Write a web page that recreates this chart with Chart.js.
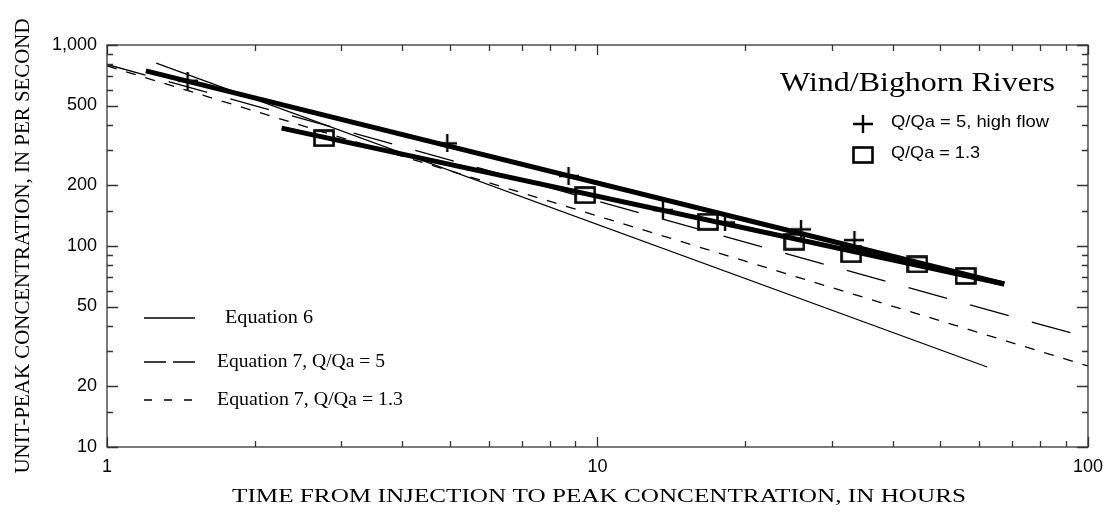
<!DOCTYPE html>
<html>
<head>
<meta charset="utf-8">
<script src="https://cdn.jsdelivr.net/npm/chart.js@4/dist/chart.umd.min.js"></script>
<style>
  html, body { margin: 0; padding: 0; background: #fff; }
  #wrap { width: 1112px; height: 517px; }
</style>
</head>
<body>
<div id="wrap"><canvas id="myChart" width="1112" height="517"></canvas></div>
<script>
// measured points, Q/Qa = 5 high flow (plus) and Q/Qa = 1.3 (square)
const plusHours = [1.46, 4.94, 8.73, 13.6, 18.2, 26.0, 33.4];
const plusConc = [664, 324, 223, 151, 131, 121, 107];
const squareHours = [2.77, 9.44, 16.8, 25.2, 32.9, 44.9, 56.3];
const squareConc = [344, 179, 132, 105, 91, 81, 71];

// fitted lines (thick)
const fit5Hours = [1.2, 67.5];
const fit5Conc = [743, 64.7];
const fit13Hours = [2.27, 67.5];
const fit13Conc = [386, 64.7];

// equation lines
const eq6Hours = [1.26, 62.3];
const eq6Conc = [813, 25.0];
const eq7aHours = [1, 100];
const eq7aConc = [800, 35];
const eq7bHours = [1, 100];
const eq7bConc = [787, 25.3];

// ticks
const xTickValues = [1, 2, 3, 4, 5, 6, 7, 8, 9, 10, 20, 30, 40, 50, 60, 70, 80, 90, 100];
const xTickLabels = { 1: '1', 10: '10', 100: '100' };
const yTickValues = [10, 15, 20, 30, 40, 50, 60, 70, 80, 90, 100, 150, 200, 300, 400, 500, 600, 700, 800, 900, 1000];
const yTickLabels = { 10: '10', 20: '20', 50: '50', 100: '100', 200: '200', 500: '500', 1000: '1,000' };

const SERIF = '"Liberation Serif", "DejaVu Serif", serif';
const SANS = '"Liberation Sans", Arial, sans-serif';

function pts(xs, ys) { return xs.map((x, i) => ({ x, y: ys[i] })); }

function makePlus() {
  const c = document.createElement('canvas');
  c.width = 20; c.height = 18;
  const g = c.getContext('2d');
  g.strokeStyle = '#000'; g.lineWidth = 2.4;
  g.beginPath();
  g.moveTo(0, 9); g.lineTo(20, 9);
  g.moveTo(10, 0); g.lineTo(10, 18);
  g.stroke();
  return c;
}
function makeSquare() {
  const c = document.createElement('canvas');
  c.width = 22; c.height = 18;
  const g = c.getContext('2d');
  g.strokeStyle = '#000'; g.lineWidth = 2.6;
  g.strokeRect(1.5, 1.5, 19, 15);
  return c;
}
const plusImg = makePlus();
const squareImg = makeSquare();

function fitText(ctx, text, font, x, y, w, align) {
  ctx.save();
  ctx.font = font;
  const m = ctx.measureText(text).width;
  ctx.translate(x, y);
  ctx.scale(w / m, 1);
  ctx.textBaseline = 'middle';
  ctx.textAlign = 'left';
  ctx.fillStyle = '#000';
  ctx.fillText(text, align === 'center' ? -m / 2 : 0, 0);
  ctx.restore();
}

const framePlugin = {
  id: 'frame',
  afterDraw(chart) {
    const ctx = chart.ctx;
    const a = chart.chartArea;
    const xs = chart.scales.x, ys = chart.scales.y;
    ctx.save();
    ctx.strokeStyle = '#333';
    ctx.lineWidth = 1.3;
    ctx.strokeRect(a.left, a.top, a.right - a.left, a.bottom - a.top);
    ctx.beginPath();
    xTickValues.forEach(v => {
      const px = Math.round(xs.getPixelForValue(v)) + 0.5;
      const len = xTickLabels[v] ? 10 : 6;
      ctx.moveTo(px, a.bottom); ctx.lineTo(px, a.bottom - len);
      ctx.moveTo(px, a.top); ctx.lineTo(px, a.top + len);
    });
    yTickValues.forEach(v => {
      const py = Math.round(ys.getPixelForValue(v)) + 0.5;
      const len = yTickLabels[v] ? 11 : 6;
      ctx.moveTo(a.left, py); ctx.lineTo(a.left + len, py);
      ctx.moveTo(a.right, py); ctx.lineTo(a.right - len, py);
    });
    ctx.stroke();

    // axis titles
    ctx.save();
    ctx.translate(23, 246);
    ctx.rotate(-Math.PI / 2);
    fitText(ctx, 'UNIT-PEAK CONCENTRATION, IN PER SECOND', '22px ' + SERIF, 0, 0, 455, 'center');
    ctx.restore();
    fitText(ctx, 'TIME FROM INJECTION TO PEAK CONCENTRATION, IN HOURS', '19px ' + SERIF, 599, 497, 734, 'center');

    // legend, top right
    fitText(ctx, 'Wind/Bighorn Rivers', '27px ' + SERIF, 780, 84, 275, 'left');
    ctx.drawImage(plusImg, 853, 115);
    fitText(ctx, 'Q/Qa = 5, high flow', '17px ' + SANS, 891, 122, 158, 'left');
    ctx.drawImage(squareImg, 852, 146);
    fitText(ctx, 'Q/Qa = 1.3', '17px ' + SANS, 891, 153, 89, 'left');

    // legend, bottom left
    ctx.strokeStyle = '#000';
    ctx.lineWidth = 1.3;
    const rows = [
      { y: 318, dash: [], text: 'Equation 6', x: 225, w: 88 },
      { y: 362, dash: [22, 7], text: 'Equation 7, Q/Qa = 5', x: 217, w: 168 },
      { y: 400, dash: [8, 12], text: 'Equation 7, Q/Qa = 1.3', x: 217, w: 186 }
    ];
    rows.forEach(r => {
      ctx.setLineDash(r.dash);
      ctx.beginPath();
      ctx.moveTo(144, r.y); ctx.lineTo(195, r.y);
      ctx.stroke();
      ctx.setLineDash([]);
      fitText(ctx, r.text, '19px ' + SERIF, r.x, r.y, r.w, 'left');
    });
    ctx.restore();
  }
};

const thin = 1.3;
const data = {
  datasets: [
    { data: pts(fit5Hours, fit5Conc), showLine: true, borderColor: '#000', borderWidth: 5, pointRadius: 0 },
    { data: pts(fit13Hours, fit13Conc), showLine: true, borderColor: '#000', borderWidth: 5, pointRadius: 0 },
    { data: pts(eq6Hours, eq6Conc), showLine: true, borderColor: '#000', borderWidth: thin, pointRadius: 0 },
    { data: pts(eq7aHours, eq7aConc), showLine: true, borderColor: '#000', borderWidth: thin, borderDash: [40, 24], pointRadius: 0 },
    { data: pts(eq7bHours, eq7bConc), showLine: true, borderColor: '#000', borderWidth: thin, borderDash: [10, 10], pointRadius: 0 },
    { data: pts(plusHours, plusConc), showLine: false, pointStyle: plusImg, pointRadius: 10 },
    { data: pts(squareHours, squareConc), showLine: false, pointStyle: squareImg, pointRadius: 10 }
  ]
};

const options = {
  responsive: false,
  animation: false,
  events: [],
  layout: { padding: { left: 0, top: 45, right: 20, bottom: 0 } },
  plugins: { legend: { display: false }, tooltip: { enabled: false } },
  scales: {
    x: {
      type: 'logarithmic', min: 1, max: 100,
      grid: { display: false, drawTicks: false },
      border: { display: false },
      afterBuildTicks: s => { s.ticks = xTickValues.map(v => ({ value: v })); },
      afterFit: s => { s.height = 70; },
      ticks: {
        autoSkip: false, maxRotation: 0, padding: 9,
        color: '#000', font: { family: SANS, size: 18 },
        callback: v => xTickLabels[v] || ''
      }
    },
    y: {
      type: 'logarithmic', min: 10, max: 1000,
      grid: { display: false, drawTicks: false },
      border: { display: false },
      afterBuildTicks: s => { s.ticks = yTickValues.map(v => ({ value: v })); },
      afterFit: s => { s.width = 107; },
      ticks: {
        autoSkip: false, padding: 10,
        color: '#000', font: { family: SANS, size: 18 },
        callback: v => yTickLabels[v] || ''
      }
    }
  }
};

new Chart(document.getElementById('myChart'), { type: 'scatter', data, options, plugins: [framePlugin] });
</script>
</body>
</html>
